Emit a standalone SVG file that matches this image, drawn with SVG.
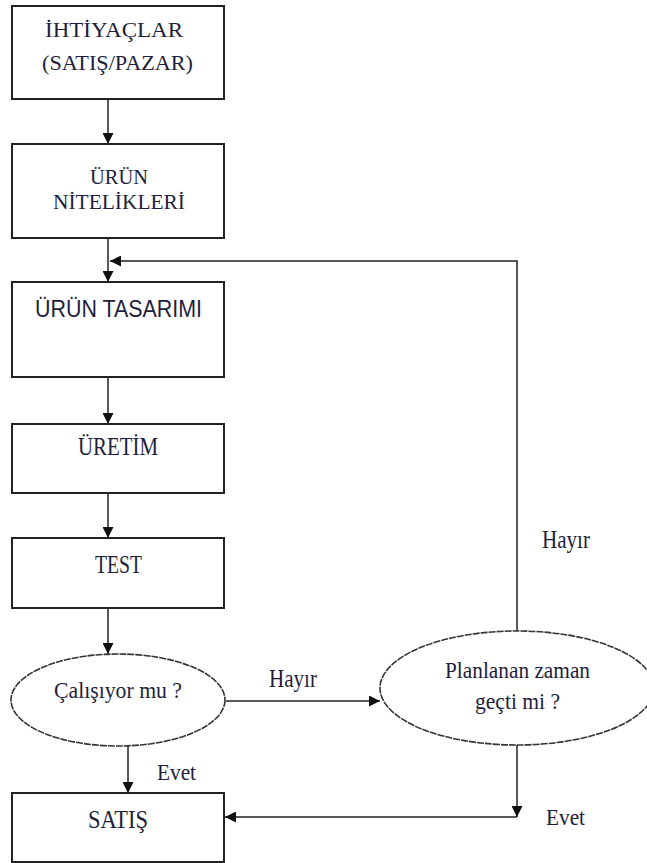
<svg xmlns="http://www.w3.org/2000/svg" width="647" height="863" viewBox="0 0 647 863">
  <defs>
    <marker id="arrow" viewBox="0 0 10 10" refX="10" refY="5" markerWidth="11" markerHeight="11" markerUnits="userSpaceOnUse" orient="auto">
      <path d="M0,0 L10,5 L0,10 Z" fill="#111"/>
    </marker>
    <style>
      .box { fill: #fff; stroke: #222; stroke-width: 2; }
      .oval { fill: #fff; stroke: #333; stroke-width: 1.6; stroke-dasharray: 7 1; }
      .line { fill: none; stroke: #222; stroke-width: 1.5; }
      .lbl { fill: #1e1e3c; }
      .sans { fill: #1e1e3c; }
    </style>
  </defs>
  <rect width="647" height="863" fill="#fff"/>

  <!-- connectors -->
  <g id="connectors">
    <line class="line" x1="108" y1="99" x2="108" y2="144" marker-end="url(#arrow)"/>
    <line class="line" x1="108" y1="238" x2="108" y2="282" marker-end="url(#arrow)"/>
    <line class="line" x1="108" y1="377" x2="108" y2="424" marker-end="url(#arrow)"/>
    <line class="line" x1="108" y1="493" x2="108" y2="538" marker-end="url(#arrow)"/>
    <line class="line" x1="108" y1="608" x2="108" y2="654" marker-end="url(#arrow)"/>
    <line class="line" x1="128" y1="746" x2="128" y2="793" marker-end="url(#arrow)"/>
    <line class="line" x1="226" y1="701" x2="380" y2="701" stroke-width="2" marker-end="url(#arrow)"/>
    <polyline class="line" points="517,631 517,261 110,261" stroke-width="2" marker-end="url(#arrow)"/>
    <line class="line" x1="517" y1="745" x2="517" y2="817" marker-end="url(#arrow)"/>
    <line class="line" x1="517" y1="817" x2="225" y2="817" stroke-width="2.5" marker-end="url(#arrow)"/>
  </g>

  <g font-family="'Liberation Serif', 'Times New Roman', serif">
    <g id="ihtiyaclar">
      <rect class="box" x="12" y="6" width="212" height="93"/>
      <text class="lbl" x="45" y="37" font-size="21" textLength="138" lengthAdjust="spacingAndGlyphs">İHTİYAÇLAR</text>
      <text class="lbl" x="42" y="70" font-size="21" textLength="151" lengthAdjust="spacingAndGlyphs">(SATIŞ/PAZAR)</text>
    </g>

    <g id="urun-nitelikleri">
      <rect class="box" x="12" y="144" width="212" height="94"/>
      <text class="lbl" x="90" y="184" font-size="21" textLength="58" lengthAdjust="spacingAndGlyphs">ÜRÜN</text>
      <text class="lbl" x="53" y="209" font-size="21" textLength="132" lengthAdjust="spacingAndGlyphs">NİTELİKLERİ</text>
    </g>

    <g id="urun-tasarimi">
      <rect class="box" x="12" y="282" width="212" height="95"/>
      <text class="sans" font-family="'Liberation Sans', Arial, sans-serif" x="35" y="317" font-size="23" textLength="167" lengthAdjust="spacingAndGlyphs">ÜRÜN TASARIMI</text>
    </g>

    <g id="uretim">
      <rect class="box" x="12" y="424" width="212" height="69"/>
      <text class="lbl" x="78" y="455" font-size="25" textLength="80" lengthAdjust="spacingAndGlyphs">ÜRETİM</text>
    </g>

    <g id="test">
      <rect class="box" x="12" y="538" width="212" height="70"/>
      <text class="lbl" x="95" y="573" font-size="25" textLength="47" lengthAdjust="spacingAndGlyphs">TEST</text>
    </g>

    <g id="calisiyor-mu">
      <ellipse class="oval" cx="118" cy="700" rx="107" ry="46"/>
      <text class="lbl" x="54" y="698" font-size="23" textLength="128" lengthAdjust="spacingAndGlyphs">Çalışıyor mu ?</text>
    </g>

    <g id="planlanan-zaman">
      <ellipse class="oval" cx="517" cy="688" rx="137" ry="57"/>
      <text class="lbl" x="445" y="678" font-size="23" textLength="145" lengthAdjust="spacingAndGlyphs">Planlanan zaman</text>
      <text class="lbl" x="475" y="709" font-size="23" textLength="85" lengthAdjust="spacingAndGlyphs">geçti mi ?</text>
    </g>

    <g id="satis">
      <rect class="box" x="12" y="793" width="212" height="69"/>
      <text class="lbl" x="88" y="828" font-size="25" textLength="60" lengthAdjust="spacingAndGlyphs">SATIŞ</text>
    </g>

    <!-- branch labels -->
    <g id="labels">
      <text class="lbl" x="269" y="687" font-size="25" textLength="48" lengthAdjust="spacingAndGlyphs">Hayır</text>
      <text class="lbl" x="157" y="780" font-size="24" textLength="39" lengthAdjust="spacingAndGlyphs">Evet</text>
      <text class="lbl" x="542" y="548" font-size="25" textLength="48" lengthAdjust="spacingAndGlyphs">Hayır</text>
      <text class="lbl" x="546" y="825" font-size="24" textLength="39" lengthAdjust="spacingAndGlyphs">Evet</text>
    </g>
  </g>
</svg>
